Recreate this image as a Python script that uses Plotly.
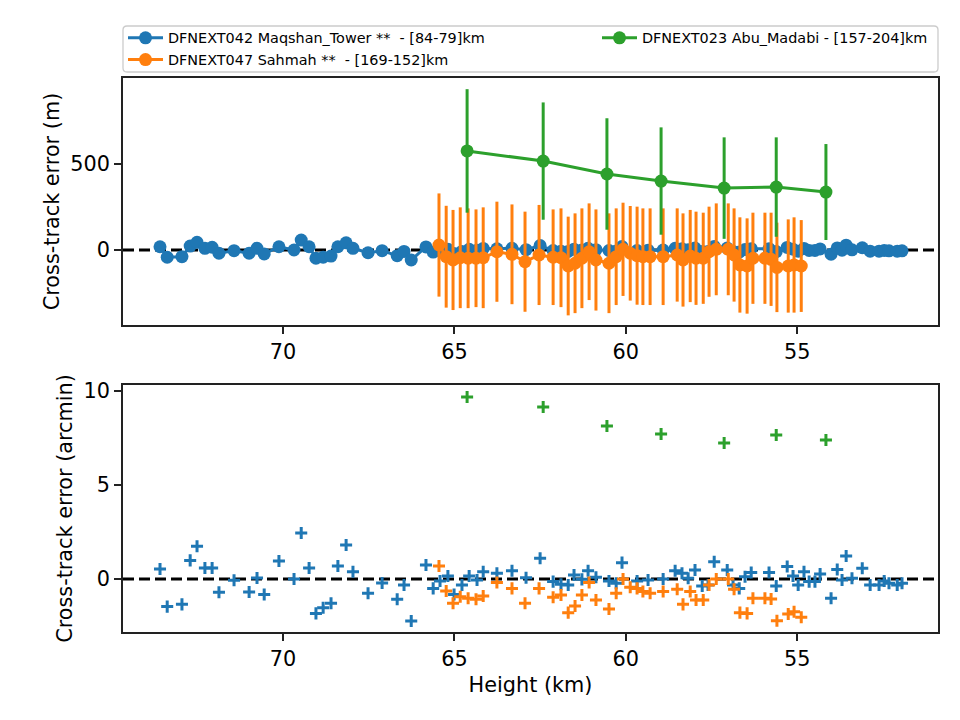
import plotly.graph_objects as go
from plotly.subplots import make_subplots

# ---------------- data ----------------
blue_name = "DFNEXT042 Maqshan_Tower **\u00a0 - [84-79]km"
orange_name = "DFNEXT047 Sahmah **\u00a0 - [169-152]km"
green_name = "DFNEXT023 Abu_Madabi - [157-204]km"

blue_h = [73.59, 73.38, 72.95, 72.71, 72.51, 72.28, 72.07, 71.87, 71.43, 70.99,
          70.76, 70.55, 70.12, 69.68, 69.47, 69.24, 69.04, 68.83, 68.60, 68.40,
          68.16, 67.96, 67.52, 67.11, 66.67, 66.47, 66.26, 65.83, 65.62, 65.42,
          65.19, 65.01, 64.78, 64.57, 64.34, 64.16, 63.76, 63.32, 62.91, 62.50,
          62.12, 61.89, 61.68, 61.51, 61.28, 61.10, 60.87, 60.49, 60.28, 60.11,
          59.67, 59.35, 58.91, 58.56, 58.36, 58.18, 57.98, 57.77, 57.60, 57.42,
          57.04, 56.87, 56.69, 56.52, 56.34, 55.82, 55.61, 55.29, 55.12, 54.97,
          54.80, 54.65, 54.48, 54.33, 54.01, 53.83, 53.69, 53.57, 53.40, 53.10,
          52.87, 52.61, 52.46, 52.32, 52.08, 51.94]
blue_m = [19, -42, -39, 23, 45, 10, 16, -19, -4, -19,
          10, -23, 19, 0, 58, 19, -48, -42, -35, 19,
          42, 10, -16, -4, -33, -8, -58, 18, -12, -3,
          4, -20, -8, 4, -1, 9, 7, 10, 2, 26,
          -3, -7, -8, 5, 0, 10, 2, -3, -6, 20,
          -3, -1, 0, 10, 7, 1, 11, -9, -8, 21,
          11, -8, -12, 3, 8, 8, -9, 15, 4, -7,
          9, -3, -3, 6, -24, 12, -1, 28, 1, 13,
          -7, -7, -3, -5, -7, -5]
blue_err = [30] * len(blue_h)
blue_arcmin = [0.53, -1.47, -1.35, 0.99, 1.74, 0.58, 0.58, -0.71, -0.07, -0.69,
               0.05, -0.82, 0.96, 0.00, 2.45, 0.58, -1.83, -1.53, -1.29, 0.69,
               1.81, 0.39, -0.76, -0.21, -1.08, -0.32, -2.23, 0.74, -0.50, -0.11,
               0.16, -0.82, -0.32, 0.16, -0.05, 0.39, 0.30, 0.44, 0.07, 1.10,
               -0.14, -0.28, -0.32, 0.21, -0.02, 0.44, 0.09, -0.11, -0.23, 0.87,
               -0.11, -0.05, 0.00, 0.44, 0.30, 0.04, 0.48, -0.37, -0.32, 0.92,
               0.48, -0.32, -0.50, 0.12, 0.35, 0.34, -0.37, 0.66, 0.16, -0.32,
               0.39, -0.14, -0.14, 0.27, -1.03, 0.51, -0.05, 1.22, 0.04, 0.57,
               -0.32, -0.32, -0.11, -0.23, -0.32, -0.23]

orange_h = [65.45, 65.24, 65.04, 64.83, 64.60, 64.37, 64.16, 63.76, 63.32, 62.94,
            62.53, 62.12, 61.89, 61.68, 61.48, 61.28, 61.07, 60.87, 60.49, 60.28,
            60.08, 59.87, 59.67, 59.50, 59.29, 58.91, 58.50, 58.33, 58.12, 57.95,
            57.74, 57.57, 57.36, 57.01, 56.84, 56.67, 56.46, 56.29, 55.94, 55.76,
            55.59, 55.26, 55.09, 54.88]
orange_m = [29, -39, -58, -45, -48, -48, -45, -10, -25, -68,
            -29, -42, -45, -93, -77, -48, -10, -58, -77, -39,
            4, -19, -33, -39, -39, -39, -29, -58, -35, -48,
            -48, -10, 4, 4, -29, -87, -93, -48, -48, -54,
            -101, -93, -87, -93]
orange_err = [300, 296, 291, 293, 290, 284, 293, 291, 290, 291,
              291, 278, 287, 287, 290, 290, 281, 294, 290, 281,
              271, 275, 285, 281, 281, 281, 271, 271, 268, 271,
              265, 262, 267, 267, 271, 277, 277, 265, 265, 271,
              260, 271, 277, 267]
orange_arcmin = [0.69, -0.64, -1.29, -0.94, -1.03, -1.08, -0.90, -0.19, -0.50, -1.29,
                 -0.50, -0.97, -0.85, -1.79, -1.44, -0.85, -0.19, -1.12, -1.60, -0.76,
                 0.00, -0.44, -0.50, -0.67, -0.76, -0.67, -0.55, -1.35, -0.67, -1.12,
                 -1.12, -0.32, 0.00, 0.00, -0.55, -1.79, -1.83, -1.03, -1.03, -1.06,
                 -2.22, -1.86, -1.74, -2.04]

green_h = [64.63, 62.41, 60.55, 58.97, 57.13, 55.61, 54.16]
green_m = [576, 517, 442, 401, 360, 366, 337]
green_err = [359, 341, 324, 312, 295, 289, 279]
green_arcmin = [9.68, 9.15, 8.14, 7.71, 7.23, 7.66, 7.39]

x_ticks = [70, 65, 60, 55]
x_range = [74.67, 50.89]
top_range = [-436, 1000]
bot_range = [-2.82, 10.32]

C_BLUE, C_ORANGE, C_GREEN = "#1f77b4", "#ff7f0e", "#2ca02c"
FONT = "DejaVu Sans"

# layout geometry (pixels)
W, H = 960, 720
ML, MR, MT, MB = 123, 22, 78, 88
PW, PH = W - ML - MR, H - MT - MB  # 815 x 554


def px_x(px):
    return (px - ML) / PW


def px_y(py):
    return (H - MB - py) / PH


fig = make_subplots(rows=2, cols=1, vertical_spacing=60 / PH)

# zero dashed lines (beneath data)
for r in (1, 2):
    fig.add_trace(go.Scatter(
        x=x_range, y=[0, 0], mode="lines", showlegend=False, hoverinfo="skip",
        line=dict(color="black", width=3, dash="11px,5px"),
    ), row=r, col=1)


def top_trace(x, y, err, color, name, legend):
    return go.Scatter(
        x=x, y=y, mode="lines+markers", name=name, legend=legend,
        line=dict(color=color, width=3),
        marker=dict(color=color, size=13),
        error_y=dict(type="data", array=err, visible=True, color=color,
                     thickness=3, width=0),
    )


fig.add_trace(top_trace(blue_h, blue_m, blue_err, C_BLUE, blue_name, "legend"), row=1, col=1)
fig.add_trace(top_trace(orange_h, orange_m, orange_err, C_ORANGE, orange_name, "legend"), row=1, col=1)
fig.add_trace(top_trace(green_h, green_m, green_err, C_GREEN, green_name, "legend2"), row=1, col=1)

for x, y, c in [(blue_h, blue_arcmin, C_BLUE), (orange_h, orange_arcmin, C_ORANGE),
                (green_h, green_arcmin, C_GREEN)]:
    fig.add_trace(go.Scatter(
        x=x, y=y, mode="markers", showlegend=False,
        marker=dict(symbol="cross-thin", size=8.6, color=c,
                    line=dict(color=c, width=3)),
    ), row=2, col=1)

axis_common = dict(
    showline=True, mirror=True, linecolor="#222", linewidth=1.7,
    ticks="outside", ticklen=7, tickwidth=1.7, tickcolor="#222",
    showgrid=False, zeroline=False,
    tickfont=dict(family=FONT, size=20.8, color="black"),
)
title_font = dict(family=FONT, size=20.8, color="black")

fig.update_layout(
    xaxis=dict(domain=[0, 1], anchor="y", range=x_range, tickvals=x_ticks, **axis_common),
    xaxis2=dict(domain=[0, 1], anchor="y2", range=x_range, tickvals=x_ticks,
                title=dict(text="Height (km)", font=title_font, standoff=8),
                **axis_common),
    yaxis=dict(domain=[307 / PH, 1], anchor="x", range=top_range, tickvals=[0, 500],
               title=dict(text="Cross-track error (m)", font=title_font, standoff=5),
               **axis_common),
    yaxis2=dict(domain=[0, 247 / PH], anchor="x2", range=bot_range, tickvals=[0, 5, 10],
                title=dict(text="Cross-track error (arcmin)", font=title_font, standoff=5),
                **axis_common),
)

# legend frame (rounded rectangle)
fx0, fx1 = px_x(123), px_x(938)
fy0, fy1 = px_y(72), px_y(26)
rx, ry = 4 / PW, 4 / PH
frame_path = (
    f"M{fx0 + rx},{fy1} L{fx1 - rx},{fy1} Q{fx1},{fy1} {fx1},{fy1 - ry} "
    f"L{fx1},{fy0 + ry} Q{fx1},{fy0} {fx1 - rx},{fy0} "
    f"L{fx0 + rx},{fy0} Q{fx0},{fy0} {fx0},{fy0 + ry} "
    f"L{fx0},{fy1 - ry} Q{fx0},{fy1} {fx0 + rx},{fy1} Z"
)

legend_common = dict(
    orientation="v", yanchor="top", xanchor="left",
    font=dict(family=FONT, size=14.4, color="black"),
    bgcolor="rgba(0,0,0,0)", borderwidth=0,
    itemwidth=35, tracegroupgap=0,
)

fig.update_layout(
    width=W, height=H,
    margin=dict(l=ML, r=MR, t=MT, b=MB, autoexpand=False),
    paper_bgcolor="white", plot_bgcolor="white",
    font=dict(family=FONT, color="black"),
    showlegend=True,
    shapes=[dict(type="path", xref="paper", yref="paper", path=frame_path,
                 line=dict(color="#cccccc", width=1.3), fillcolor="white",
                 layer="below")],
    legend=dict(x=0, y=px_y(22), **legend_common),
    legend2=dict(x=px_x(597), y=px_y(22), **legend_common),
)

fig.write_html("out.html")
